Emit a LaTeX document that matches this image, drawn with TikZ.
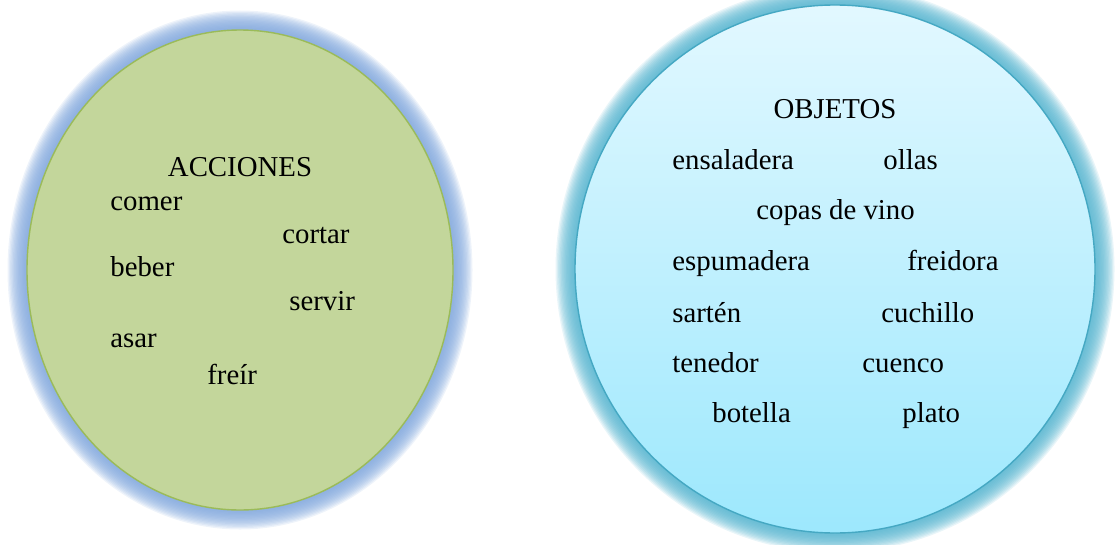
\documentclass[tikz,border=0pt]{standalone}
\usepackage{fontspec}
\setmainfont{Liberation Serif}

\definecolor{olivefill}{HTML}{C3D69B}
\definecolor{oliveline}{HTML}{9BBB59}
\definecolor{glowblue}{HTML}{7FA6DC}
\definecolor{aquatop}{HTML}{E2F8FF}
\definecolor{aquabottom}{HTML}{9DE8FD}
\definecolor{aqualine}{HTML}{45A8C3}
\definecolor{glowaqua}{HTML}{55B4CF}

\begin{document}
\begin{tikzpicture}[
        x=0.02cm, y=-0.02cm,
        word/.style={anchor=base west, inner sep=0pt, font=\fontsize{16.4}{19}\selectfont},
        heading/.style={word, anchor=base}
    ]
    \useasboundingbox (0,0) rectangle (1118,544);

    %% ---- Glow round both ellipses ----
    \foreach \i in {1,...,15} {
        \fill[glowblue, opacity=0.13] (240,270) ellipse [x radius=213+1.3*\i, y radius=240+1.3*\i];
        \fill[glowaqua, opacity=0.13] (835,269) ellipse [x radius=260+1.3*\i, y radius=264+1.3*\i];
    }

    %% ---- Ellipses ----
    \fill[olivefill] (240,270) ellipse [x radius=213, y radius=240];
    \draw[oliveline, line width=0.8pt] (240,270) ellipse [x radius=213, y radius=240];
    \shade[top color=aquatop, bottom color=aquabottom] (835,269) ellipse [x radius=260, y radius=264];
    \draw[aqualine, line width=0.8pt] (835,269) ellipse [x radius=260, y radius=264];

    %% ---- Left: actions ----
    \node[heading] (acciones) at (240,176) {ACCIONES};
    \node[word] (comer)  at (110,210) {comer};
    \node[word] (cortar) at (282,243) {cortar};
    \node[word] (beber)  at (110,276) {beber};
    \node[word] (servir) at (289,310) {servir};
    \node[word] (asar)   at (110,347) {asar};
    \node[word] (freir)  at (207,384) {freír};

    %% ---- Right: objects ----
    \node[heading] (objetos) at (835,118) {OBJETOS};
    \node[word] (ensaladera) at (672,169) {ensaladera};
    \node[word] (ollas)      at (883,169) {ollas};
    \node[word] (copas)      at (756,219) {copas de vino};
    \node[word] (espumadera) at (672,270) {espumadera};
    \node[word] (freidora)   at (907,270) {freidora};
    \node[word] (sarten)     at (672,322) {sartén};
    \node[word] (cuchillo)   at (881,322) {cuchillo};
    \node[word] (tenedor)    at (672,372) {tenedor};
    \node[word] (cuenco)     at (862,372) {cuenco};
    \node[word] (botella)    at (712,422) {botella};
    \node[word] (plato)      at (902,422) {plato};

\end{tikzpicture}
\end{document}
